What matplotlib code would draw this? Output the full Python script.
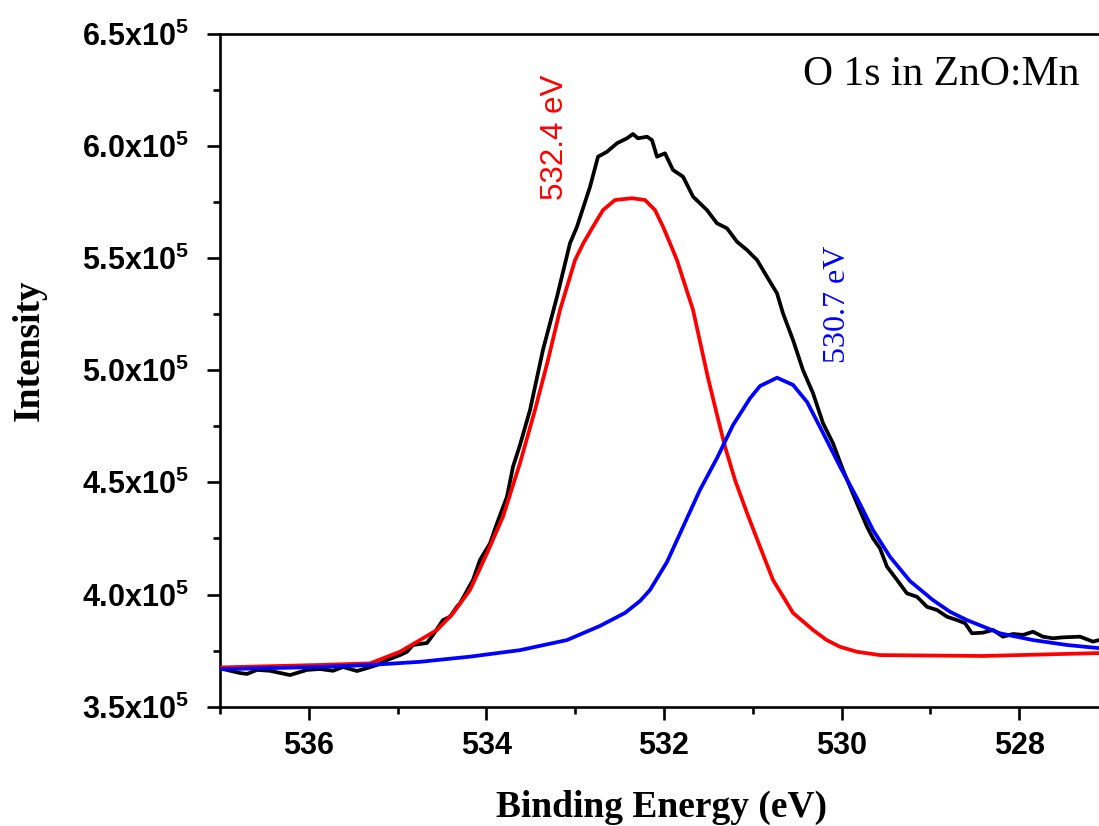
import matplotlib
matplotlib.use("Agg")
import matplotlib.pyplot as plt
from matplotlib.ticker import MultipleLocator, FuncFormatter

# ---------------- data (intensity in units of 1e5 counts) ----------------
SCALE = 1e5

energy_raw = [537.000, 536.775, 536.696, 536.583, 536.437, 536.212, 536.020, 535.874,
              535.727, 535.615, 535.457, 535.345, 535.232, 535.119, 534.973, 534.894,
              534.827, 534.669, 534.601, 534.489, 534.410, 534.331, 534.297, 534.151,
              534.072, 533.959, 533.881, 533.768, 533.700, 533.622, 533.509, 533.363,
              533.205, 533.059, 532.980, 532.833, 532.743, 532.642, 532.529, 532.417,
              532.349, 532.293, 532.191, 532.135, 532.079, 531.989, 531.899, 531.786,
              531.673, 531.516, 531.403, 531.291, 531.178, 531.065, 530.953, 530.840,
              530.727, 530.660, 530.547, 530.435, 530.322, 530.209, 530.097, 529.984,
              529.827, 529.714, 529.646, 529.568, 529.489, 529.376, 529.264, 529.151,
              529.038, 528.926, 528.813, 528.700, 528.610, 528.532, 528.408, 528.295,
              528.182, 528.070, 527.957, 527.845, 527.732, 527.619, 527.507, 527.315,
              527.169, 527.101, 527.000]
intensity_raw = [3.671, 3.650, 3.646, 3.664, 3.660, 3.641, 3.664, 3.668,
                 3.660, 3.677, 3.659, 3.672, 3.686, 3.708, 3.730, 3.745,
                 3.775, 3.784, 3.820, 3.886, 3.901, 3.946, 3.961, 4.065,
                 4.154, 4.228, 4.317, 4.436, 4.570, 4.666, 4.822, 5.090,
                 5.327, 5.565, 5.639, 5.817, 5.951, 5.973, 6.011, 6.033,
                 6.052, 6.033, 6.040, 6.025, 5.951, 5.966, 5.892, 5.862,
                 5.773, 5.713, 5.654, 5.632, 5.572, 5.535, 5.491, 5.416,
                 5.342, 5.253, 5.134, 5.000, 4.897, 4.763, 4.674, 4.555,
                 4.406, 4.302, 4.250, 4.206, 4.124, 4.065, 4.005, 3.990,
                 3.945, 3.931, 3.901, 3.886, 3.872, 3.827, 3.830, 3.842,
                 3.812, 3.824, 3.820, 3.834, 3.812, 3.805, 3.809, 3.812,
                 3.790, 3.797, 3.795]

# fitted component at 532.4 eV (red)
energy_fit1 = [537.000, 535.874, 535.311, 534.973, 534.748, 534.556, 534.376, 534.185,
               533.993, 533.813, 533.622, 533.453, 533.306, 533.171, 533.002, 532.909,
               532.800, 532.687, 532.552, 532.360, 532.214, 532.101, 532.011, 531.932,
               531.854, 531.673, 531.505, 531.407, 531.313, 531.200, 531.065, 530.919,
               530.773, 530.657, 530.547, 530.322, 530.168, 530.018, 529.830, 529.568,
               528.408, 527.101, 527.000]
intensity_fit1 = [3.675, 3.686, 3.693, 3.745, 3.797, 3.842, 3.916, 4.020,
                  4.184, 4.347, 4.585, 4.822, 5.045, 5.268, 5.490, 5.565,
                  5.639, 5.713, 5.758, 5.766, 5.758, 5.713, 5.639, 5.565,
                  5.490, 5.268, 4.966, 4.807, 4.659, 4.510, 4.363, 4.213,
                  4.065, 3.990, 3.918, 3.842, 3.797, 3.767, 3.745, 3.730,
                  3.726, 3.739, 3.740]

# fitted component at 530.7 eV (blue)
energy_fit2 = [537.000, 535.874, 535.311, 534.748, 534.185, 533.622, 533.092, 532.721,
               532.439, 532.270, 532.158, 531.966, 531.786, 531.595, 531.403, 531.223,
               531.032, 530.919, 530.727, 530.547, 530.389, 530.209, 530.018, 529.827,
               529.646, 529.455, 529.230, 528.971, 528.779, 528.588, 528.216, 527.845,
               527.462, 527.000]
intensity_fit2 = [3.667, 3.677, 3.686, 3.700, 3.723, 3.752, 3.797, 3.860,
                  3.918, 3.971, 4.020, 4.145, 4.301, 4.466, 4.608, 4.755,
                  4.874, 4.929, 4.966, 4.934, 4.858, 4.720, 4.570, 4.430,
                  4.287, 4.168, 4.060, 3.975, 3.923, 3.886, 3.827, 3.797,
                  3.775, 3.757]

peak_labels = ["532.4 eV", "530.7 eV"]
x_ticks = [536, 534, 532, 530, 528]
y_ticks = [3.5, 4.0, 4.5, 5.0, 5.5, 6.0, 6.5]

# ---------------- style ----------------
plt.rcParams['font.family'] = ['Liberation Sans', 'DejaVu Sans']
plt.rcParams['font.weight'] = 'bold'
plt.rcParams['mathtext.default'] = 'regular'

W, H = 1099, 826
fig = plt.figure(figsize=(W / 100, H / 100), dpi=100)
# axes extends slightly past the right edge of the figure (cropped like the original)
ax = fig.add_axes([220 / W, (H - 706.7) / H, 888 / W, (706.7 - 33.5) / H])

lw = 2.7
ax.plot(energy_raw, [v * SCALE for v in intensity_raw], color='black', lw=lw,
        zorder=2, solid_joinstyle='round')
ax.plot(energy_fit1, [v * SCALE for v in intensity_fit1], color='#ff0000', lw=lw,
        zorder=3, solid_joinstyle='round')
ax.plot(energy_fit2, [v * SCALE for v in intensity_fit2], color='#0000ff', lw=lw,
        zorder=4, solid_joinstyle='round')

ax.set_xlim(537, 527)
ax.set_ylim(3.5 * SCALE, 6.5 * SCALE)

ax.set_xticks(x_ticks)
ax.xaxis.set_minor_locator(MultipleLocator(1))
ax.set_yticks([v * SCALE for v in y_ticks])
ax.yaxis.set_minor_locator(MultipleLocator(0.25 * SCALE))
ax.yaxis.set_major_formatter(FuncFormatter(lambda v, p: f"{v / SCALE:.1f}x10$^5$"))

for s in ax.spines.values():
    s.set_linewidth(1.9)

ax.tick_params(axis='both', which='major', direction='out', length=9.5, width=1.9,
               labelsize=22)
ax.tick_params(axis='both', which='minor', direction='out', length=5, width=1.9)
ax.tick_params(axis='x', which='major', pad=8)
ax.tick_params(axis='y', which='major', pad=13)
ax.tick_params(top=False, right=False, which='both')

serif = ['Liberation Serif', 'DejaVu Serif']
ax.set_xlabel("Binding Energy (eV)", family=serif, fontsize=27, fontweight='bold',
              va='baseline')
ax.xaxis.set_label_coords(0.497, -0.164)
ax.set_ylabel("Intensity", family=serif, fontsize=27, fontweight='bold',
              va='baseline', ha='center', rotation=90, rotation_mode='anchor')
ax.yaxis.set_label_coords(-0.2038, 0.5299)

ax.text(0.6565, 0.9235, "O 1s in ZnO:Mn", transform=ax.transAxes, family=serif,
        fontsize=30, fontweight='normal', ha='left', va='baseline', color='black')

ax.text(533.228, 6.039 * SCALE, peak_labels[0], rotation=90, ha='center', va='center',
        family=['Liberation Sans', 'DejaVu Sans'],
        fontsize=22.5, fontweight='normal', color='#ff0000')
ax.text(530.041, 5.295 * SCALE, peak_labels[1], rotation=90, ha='center', va='center',
        family=serif, fontsize=23, fontweight='normal', color='#0000ff')

fig.savefig("out.png", dpi=100)
